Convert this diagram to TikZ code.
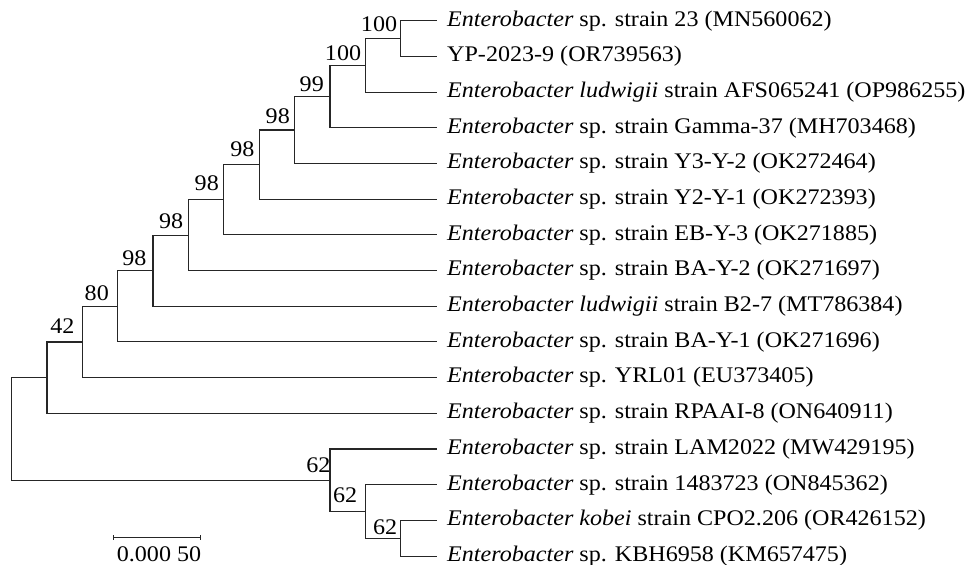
\documentclass[tikz,border=0pt]{standalone}
\usepackage{fontspec}
\setmainfont{Liberation Serif}[FakeStretch=1.08]
\begin{document}
\begin{tikzpicture}[x=1pt,y=-1pt,
  branch/.style={draw=black!85,line width=1.1pt,line cap=rect},
  leaf/.style={anchor=west,inner xsep=11pt,inner ysep=0pt,font=\fontsize{22.3}{25}\selectfont},
  boot/.style={anchor=base east,inner sep=0pt,font=\fontsize{22.3}{25}\selectfont}]
\useasboundingbox (0,0) rectangle (967,565);
% leaves
\node[leaf] (L1)  at (436,20.70)  {\textit{Enterobacter} sp. strain 23 (MN560062)};
\node[leaf] (L2)  at (436,56.39)  {YP-2023-9 (OR739563)};
\node[leaf] (L3)  at (436,92.08)  {\textit{Enterobacter ludwigii} strain AFS065241 (OP986255)};
\node[leaf] (L4)  at (436,127.77) {\textit{Enterobacter} sp. strain Gamma-37 (MH703468)};
\node[leaf] (L5)  at (436,163.46) {\textit{Enterobacter} sp. strain Y3-Y-2 (OK272464)};
\node[leaf] (L6)  at (436,199.15) {\textit{Enterobacter} sp. strain Y2-Y-1 (OK272393)};
\node[leaf] (L7)  at (436,234.84) {\textit{Enterobacter} sp. strain EB-Y-3 (OK271885)};
\node[leaf] (L8)  at (436,270.53) {\textit{Enterobacter} sp. strain BA-Y-2 (OK271697)};
\node[leaf] (L9)  at (436,306.22) {\textit{Enterobacter ludwigii} strain B2-7 (MT786384)};
\node[leaf] (L10) at (436,341.91) {\textit{Enterobacter} sp. strain BA-Y-1 (OK271696)};
\node[leaf] (L11) at (436,377.60) {\textit{Enterobacter} sp. YRL01 (EU373405)};
\node[leaf] (L12) at (436,413.29) {\textit{Enterobacter} sp. strain RPAAI-8 (ON640911)};
\node[leaf] (L13) at (436,448.98) {\textit{Enterobacter} sp. strain LAM2022 (MW429195)};
\node[leaf] (L14) at (436,484.67) {\textit{Enterobacter} sp. strain 1483723 (ON845362)};
\node[leaf] (L15) at (436,520.36) {\textit{Enterobacter kobei} strain CPO2.206 (OR426152)};
\node[leaf] (L16) at (436,556.05) {\textit{Enterobacter} sp. KBH6958 (KM657475)};
% internal nodes
\coordinate (n1)  at (400.7,38.55);
\coordinate (n2)  at (365.7,65.31);
\coordinate (n3)  at (330.0,96.54);
\coordinate (n4)  at (294.7,130.00);
\coordinate (n5)  at (259.3,164.58);
\coordinate (n6)  at (223.7,199.71);
\coordinate (n7)  at (188.7,235.12);
\coordinate (n8)  at (153.0,270.67);
\coordinate (n9)  at (117.7,306.29);
\coordinate (n10) at (82.3,341.95);
\coordinate (n11) at (47.0,377.62);
\coordinate (r)   at (11.7,428.90);
\coordinate (n15) at (330.0,480.21);
\coordinate (n14) at (365.7,511.44);
\coordinate (n13) at (400.7,538.20);
% branches
\draw[branch] (n1) |- (L1.west);  \draw[branch] (n1) |- (L2.west);
\draw[branch] (n2) |- (n1);       \draw[branch] (n2) |- (L3.west);
\draw[branch] (n3) |- (n2);       \draw[branch] (n3) |- (L4.west);
\draw[branch] (n4) |- (n3);       \draw[branch] (n4) |- (L5.west);
\draw[branch] (n5) |- (n4);       \draw[branch] (n5) |- (L6.west);
\draw[branch] (n6) |- (n5);       \draw[branch] (n6) |- (L7.west);
\draw[branch] (n7) |- (n6);       \draw[branch] (n7) |- (L8.west);
\draw[branch] (n8) |- (n7);       \draw[branch] (n8) |- (L9.west);
\draw[branch] (n9) |- (n8);       \draw[branch] (n9) |- (L10.west);
\draw[branch] (n10) |- (n9);      \draw[branch] (n10) |- (L11.west);
\draw[branch] (n11) |- (n10);     \draw[branch] (n11) |- (L12.west);
\draw[branch] (r) |- (n11);       \draw[branch] (r) |- (n15);
\draw[branch] (n15) |- (L13.west); \draw[branch] (n15) |- (n14);
\draw[branch] (n14) |- (L14.west); \draw[branch] (n14) |- (n13);
\draw[branch] (n13) |- (L15.west); \draw[branch] (n13) |- (L16.west);
% bootstrap values
\node[boot] (b1)  at (397.3,31.7)  {100};
\node[boot] (b2)  at (361.3,60.0)  {100};
\node[boot] (b3)  at (324.0,91.7)  {99};
\node[boot] (b4)  at (290.0,123.3) {98};
\node[boot] (b5)  at (254.7,156.7) {98};
\node[boot] (b6)  at (219.0,190.0) {98};
\node[boot] (b7)  at (183.3,228.3) {98};
\node[boot] (b8)  at (146.7,265.0) {98};
\node[boot] (b9)  at (109.0,300.0) {80};
\node[boot] (b10) at (74.7,333.3)  {42};
\node[boot] (b15) at (330.7,472.3) {62};
\node[boot] (b14) at (357.3,502.7) {62};
\node[boot] (b13) at (397.3,534.3) {62};
% scale bar
\coordinate (s1) at (113.5,537.5);
\coordinate (s2) at (200.7,537.5);
\draw[branch,line cap=butt] (s1) -- (s2);
\draw[branch,line cap=butt] ([yshift=2.5pt]s1) -- ([yshift=-2.5pt]s1);
\draw[branch,line cap=butt] ([yshift=2.5pt]s2) -- ([yshift=-2.5pt]s2);
\node[boot,anchor=base] (sl) at (159,561.5) {0.000 50};
\end{tikzpicture}
\end{document}
